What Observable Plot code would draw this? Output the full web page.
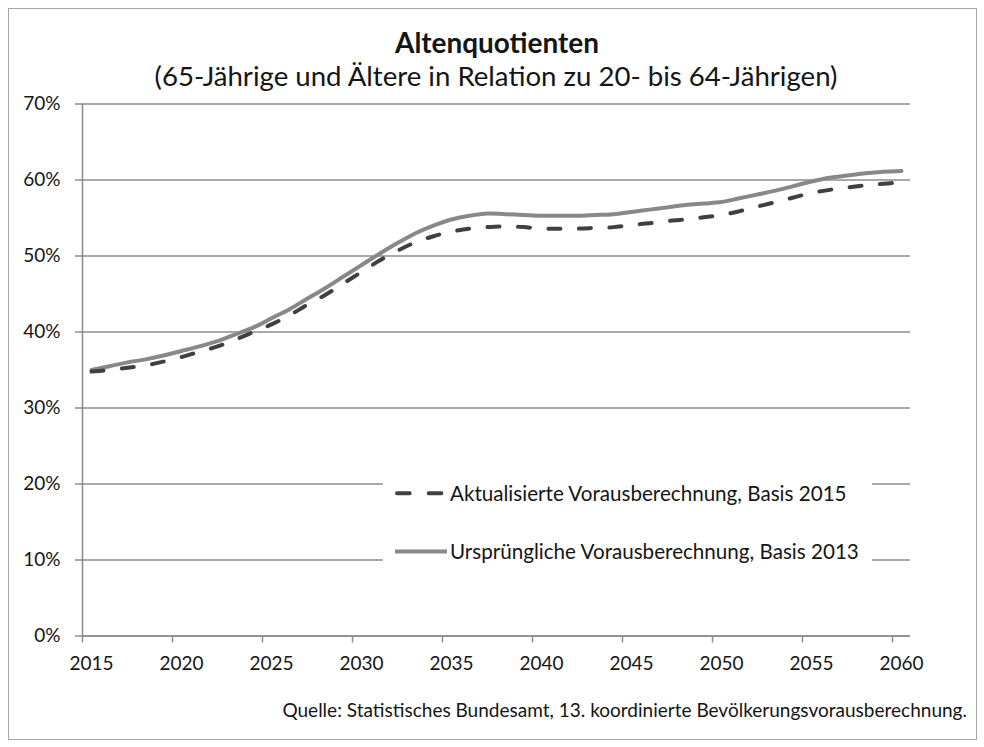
<!DOCTYPE html>
<html><head><meta charset="utf-8">
<script src="https://cdn.jsdelivr.net/npm/d3@7"></script>
<script src="https://cdn.jsdelivr.net/npm/@observablehq/plot@0.6"></script>
<style>
body{margin:0;background:#fff;}
#chart{position:relative;width:984px;height:747px;font-family:Lato,"Open Sans",sans-serif;}
#chart svg{position:absolute;left:0;top:0;}
</style></head><body><div id="chart"></div>
<script>
const title = "Altenquotienten";
const subtitle = "(65-Jährige und Ältere in Relation zu 20- bis 64-Jährigen)";
const caption = "Quelle: Statistisches Bundesamt, 13. koordinierte Bevölkerungsvorausberechnung.";
const seriesNames = ["Aktualisierte Vorausberechnung, Basis 2015", "Ursprüngliche Vorausberechnung, Basis 2013"];

const years = [2015,2016,2017,2018,2019,2020,2021,2022,2023,2024,2025,2026,2027,2028,2029,
  2030,2031,2032,2033,2034,2035,2036,2037,2038,2039,2040,2041,2042,2043,2044,
  2045,2046,2047,2048,2049,2050,2051,2052,2053,2054,2055,2056,2057,2058,2059,2060];
// Aktualisierte Vorausberechnung, Basis 2015 (%)
const basis2015 = [34.8,35.0,35.3,35.6,36.1,36.7,37.4,38.1,39.0,40.0,41.0,42.2,43.6,44.9,46.4,
  47.9,49.4,50.7,51.8,52.6,53.2,53.6,53.8,53.9,53.8,53.6,53.6,53.6,53.7,53.8,
  54.1,54.3,54.6,54.8,55.1,55.4,55.9,56.5,57.1,57.7,58.3,58.7,59.0,59.3,59.5,59.7];
// Ursprüngliche Vorausberechnung, Basis 2013 (%)
const basis2013 = [35.0,35.5,36.0,36.4,36.9,37.5,38.1,38.8,39.7,40.6,41.8,43.0,44.4,45.8,47.3,
  48.8,50.3,51.7,53.0,54.0,54.8,55.3,55.6,55.5,55.4,55.3,55.3,55.3,55.4,55.5,
  55.8,56.1,56.4,56.7,56.9,57.1,57.6,58.1,58.6,59.2,59.8,60.3,60.6,60.9,61.1,61.2];
const xTickYears = [2015,2020,2025,2030,2035,2040,2045,2050,2055,2060];
const yTicks = [0,10,20,30,40,50,60,70];

const d2015 = years.map((y,i)=>({year:y, value:basis2015[i]}));
const d2013 = years.map((y,i)=>({year:y, value:basis2013[i]}));

const gridColor = "#8c8c8c";
const textColor = "#151515";

const plot = Plot.plot({
  width: 984, height: 747,
  marginLeft: 82, marginRight: 74, marginTop: 103.5, marginBottom: 111.5,
  style: {fontFamily: "Lato, 'Open Sans', sans-serif", fontSize: "19px", color: textColor, background: "transparent"},
  x: {domain: [2014.5, 2060.5], label: null},
  y: {domain: [0, 70], label: null},
  marks: [
    Plot.gridY(yTicks, {stroke: gridColor, strokeOpacity: 1, strokeWidth: 1.5}),
    Plot.axisY(yTicks, {tickFormat: d => d + "%", tickSize: 7, tickPadding: 15, stroke: gridColor, strokeWidth: 1.5, fill: textColor, label: null}),
    Plot.axisX(xTickYears.map(y => y - 0.5), {tickFormat: () => "", tickSize: 7, stroke: gridColor, strokeWidth: 1.5, label: null}),
    Plot.axisX(xTickYears, {tickFormat: d => String(d), tickSize: 0, tickPadding: 20, fill: textColor, label: null}),
    Plot.ruleX([2014.5], {stroke: gridColor, strokeWidth: 1.5}),
    Plot.ruleY([0], {stroke: gridColor, strokeWidth: 1.5}),
    Plot.line(d2013, {x: "year", y: "value", stroke: "#888888", strokeWidth: 4, curve: "catmull-rom"}),
    Plot.line(d2015, {x: "year", y: "value", stroke: "#404040", strokeWidth: 4, strokeDasharray: "12 18.5", strokeLinecap: "round", curve: "catmull-rom"})
  ]
});
const chart = document.getElementById("chart");
chart.appendChild(plot);

// overlay: border, titles, legend, caption
const ov = d3.select(chart).append("svg").attr("width", 984).attr("height", 747)
  .style("font-family", "Lato, 'Open Sans', sans-serif");
ov.append("rect").attr("x", 8.5).attr("y", 8.5).attr("width", 968).attr("height", 731)
  .attr("fill", "none").attr("stroke", "#a6a6a6").attr("stroke-width", 1);

function fit(sel, target) {
  const w = sel.node().getComputedTextLength();
  const fs = parseFloat(sel.attr("font-size"));
  if (w > 0) sel.attr("font-size", (fs * target / w).toFixed(2));
  return parseFloat(sel.attr("font-size"));
}

const t1 = ov.append("text").text(title).attr("x", 497).attr("y", 53).attr("text-anchor", "middle")
  .attr("font-weight", "bold").attr("font-size", 27).attr("fill", textColor);
fit(t1, 204);
const t2 = ov.append("text").text(subtitle).attr("x", 496).attr("y", 86).attr("text-anchor", "middle")
  .attr("font-size", 23).attr("fill", textColor);
fit(t2, 683);
const cap = ov.append("text").text(caption).attr("x", 967).attr("y", 717).attr("text-anchor", "end")
  .attr("font-size", 16).attr("fill", textColor);
fit(cap, 685);

// legend
const lg = ov.append("g");
lg.append("rect").attr("x", 383).attr("y", 466).attr("width", 489).attr("height", 110).attr("fill", "#fff");
const legendY = [493.3, 551.5];
lg.append("line").attr("x1", 397).attr("x2", 441.5).attr("y1", legendY[0]).attr("y2", legendY[0])
  .attr("stroke", "#404040").attr("stroke-width", 4).attr("stroke-linecap", "round").attr("stroke-dasharray", "12.7 19");
lg.append("line").attr("x1", 395).attr("x2", 447).attr("y1", legendY[1]).attr("y2", legendY[1])
  .attr("stroke", "#888888").attr("stroke-width", 4);
const l1 = lg.append("text").text(seriesNames[0]).attr("x", 450).attr("y", legendY[0]).attr("dy", "0.36em")
  .attr("font-size", 19).attr("fill", textColor);
const l2 = lg.append("text").text(seriesNames[1]).attr("x", 450).attr("y", legendY[1]).attr("dy", "0.36em")
  .attr("font-size", 19).attr("fill", textColor);
const lfs = fit(l2, 409);
l1.attr("font-size", lfs);
</script>
</body></html>
